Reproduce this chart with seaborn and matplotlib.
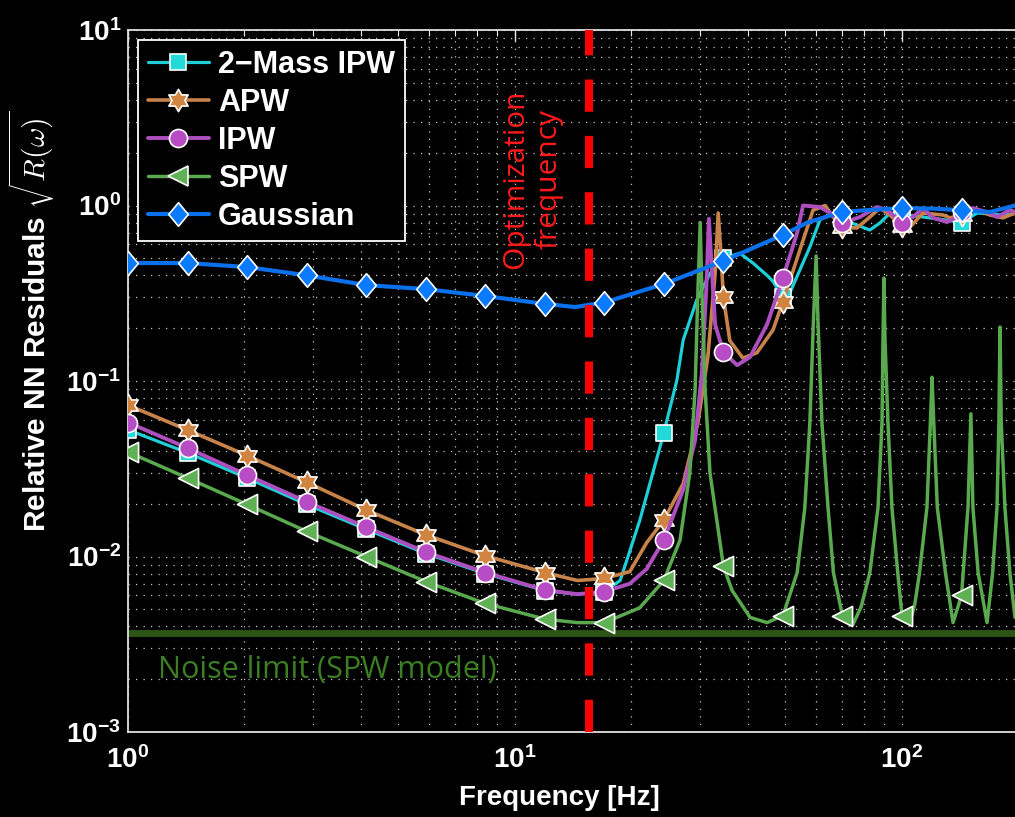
import numpy as np
import matplotlib
matplotlib.use("Agg")
import matplotlib.pyplot as plt
from matplotlib.path import Path
from matplotlib.lines import Line2D
from matplotlib.ticker import LogLocator, NullFormatter
import seaborn as sns

# ---------------- data ----------------
series_names = ["2\u2212Mass IPW", "APW", "IPW", "SPW", "Gaussian"]

marker_freq = [1.0, 1.425, 2.031, 2.894, 4.125, 5.878, 8.377, 11.94, 17.01,
               24.24, 34.55, 49.24, 70.17, 100.0, 142.5]

mass2_marks = [0.0527, 0.039, 0.028, 0.0198, 0.0143, 0.0104, 0.0080, 0.0064, 0.0063,
               0.0506, 0.50, 0.30, 0.85, 0.89, 0.80]
apw_marks = [0.0728, 0.0526, 0.0376, 0.0265, 0.0184, 0.0133, 0.0101, 0.0081, 0.0075,
             0.0161, 0.30, 0.283, 0.75, 0.76, 0.883]
ipw_marks = [0.058, 0.0415, 0.0291, 0.0205, 0.0147, 0.0106, 0.0081, 0.00644, 0.0063,
             0.0124, 0.146, 0.386, 0.795, 0.80, 0.92]
spw_marks = [0.0394, 0.028, 0.0198, 0.0139, 0.0100, 0.0072, 0.0054, 0.0044, 0.0042,
             0.0073, 0.0088, 0.0046, 0.0046, 0.0046, 0.006]
gauss_marks = [0.47, 0.47, 0.446, 0.40, 0.352, 0.334, 0.305, 0.275, 0.28,
               0.357, 0.483, 0.68, 0.92, 0.967, 0.94]

mass2_freq = [1.0, 1.425, 2.031, 2.894, 4.125, 5.878, 8.377, 11.94, 14.5, 17.01, 18.7, 21.0,
              24.24, 26.2, 27.2, 29.5, 31.9, 34.55, 38.1, 41.2, 44.8, 46.4, 49.24, 51.7,
              57.8, 61.4, 66.4, 74.7, 82.6, 87.7, 93.1, 103.0, 113.3, 128.0, 142.5, 156.3,
              182.4, 195.9]
mass2_vals = [0.0527, 0.039, 0.028, 0.0198, 0.0143, 0.0104, 0.0080, 0.0064, 0.0061, 0.0063,
              0.0073, 0.016, 0.0506, 0.101, 0.171, 0.29, 0.41, 0.50, 0.535, 0.47, 0.40, 0.37,
              0.30, 0.33, 0.58, 0.83, 0.90, 0.79, 0.725, 0.795, 0.906, 0.883, 0.86, 0.83,
              0.80, 0.906, 0.883, 0.90]

apw_freq = [1.0, 1.425, 2.031, 2.894, 4.125, 5.878, 8.377, 11.94, 14.5, 17.01, 19.8, 21.9,
            24.24, 27.2, 29.7, 31.5, 32.9, 33.5, 34.1, 34.55, 35.9, 38.8, 42.2, 46.4, 49.24,
            54.5, 58.9, 63.3, 66.4, 70.17, 76.5, 82.6, 87.7, 93.1, 100.0, 104.9, 113.3,
            127.7, 133.1, 142.5, 156.3, 168.8, 182.4, 195.9]
apw_vals = [0.0728, 0.0526, 0.0376, 0.0265, 0.0184, 0.0133, 0.0101, 0.0081, 0.0073, 0.0075,
            0.0082, 0.012, 0.0161, 0.026, 0.058, 0.137, 0.41, 0.906, 0.51, 0.30, 0.17, 0.135,
            0.145, 0.195, 0.283, 0.56, 0.94, 1.0, 0.86, 0.75, 0.745, 0.86, 0.967, 0.883,
            0.76, 0.754, 0.906, 0.883, 0.85, 0.883, 0.943, 0.883, 0.85, 0.906]

ipw_freq = [1.0, 1.425, 2.031, 2.894, 4.125, 5.878, 8.377, 11.94, 14.5, 17.01, 19.8, 21.9,
            24.24, 27.2, 29.2, 30.4, 31.2, 31.7, 32.3, 32.9, 34.55, 37.5, 40.5, 44.8, 49.24,
            53.6, 55.5, 61.4, 65.2, 70.17, 77.9, 86.1, 91.4, 100.0, 106.8, 113.3, 120.3,
            130.7, 138.7, 142.5, 152.5, 168.8, 175.9, 190.1, 195.9]
ipw_vals = [0.058, 0.0415, 0.0291, 0.0205, 0.0147, 0.0106, 0.0081, 0.00644, 0.0061, 0.0063,
            0.0070, 0.0085, 0.0124, 0.024, 0.046, 0.111, 0.33, 0.84, 0.41, 0.21, 0.146,
            0.123, 0.137, 0.21, 0.386, 0.70, 1.0, 0.98, 0.906, 0.795, 0.86, 0.98, 0.943,
            0.80, 0.86, 0.967, 0.85, 0.805, 0.86, 0.92, 0.967, 0.906, 0.86, 0.943, 0.92]

spw_freq = [1.0, 1.425, 2.031, 2.894, 4.125, 5.878, 8.377, 11.94, 14.5, 17.01, 21.0, 24.24,
            26.7, 28.3, 29.2, 29.7, 30.1, 30.4, 31.0, 31.9, 33.8, 34.55, 36.4, 40.5, 44.8,
            49.24, 53.6, 56.1, 57.8, 59.0, 60.0, 60.7, 62.1, 64.4, 66.5, 70.17, 74.7, 78.5,
            82.6, 86.7, 88.8, 89.3, 89.8, 90.4, 92.0, 94.2, 97.5, 100.0, 104.9, 108.0,
            111.0, 116.0, 118.4, 119.6, 120.8, 123.4, 129.5, 135.5, 142.5, 148.1, 150.7,
            152.5, 157.3, 165.9, 171.5, 176.0, 178.0, 179.2, 180.5, 184.5, 190.0, 195.9]
spw_vals = [0.0394, 0.028, 0.0198, 0.0139, 0.0100, 0.0072, 0.0054, 0.0044, 0.0042, 0.0042,
            0.0051, 0.0073, 0.0124, 0.030, 0.089, 0.33, 0.80, 0.33, 0.089, 0.030, 0.0124,
            0.0088, 0.0064, 0.0045, 0.0042, 0.0046, 0.0081, 0.019, 0.058, 0.21, 0.516, 0.21,
            0.058, 0.019, 0.0081, 0.0046, 0.0041, 0.0052, 0.0081, 0.019, 0.058, 0.17, 0.386,
            0.17, 0.058, 0.019, 0.0081, 0.0046, 0.0042, 0.0054, 0.0081, 0.019, 0.058, 0.105,
            0.058, 0.019, 0.0081, 0.0042, 0.006, 0.019, 0.065, 0.019, 0.0081, 0.0042, 0.0081,
            0.019, 0.058, 0.203, 0.058, 0.019, 0.0081, 0.0045]

gauss_freq = [1.0, 1.425, 2.031, 2.894, 4.125, 5.878, 8.377, 11.94, 14.3, 17.01, 24.24,
              34.55, 49.24, 57.0, 70.17, 82.6, 100.0, 120.0, 142.5, 168.8, 195.9]
gauss_vals = [0.47, 0.47, 0.446, 0.40, 0.352, 0.334, 0.305, 0.275, 0.264, 0.28, 0.357,
              0.483, 0.68, 0.80, 0.92, 0.943, 0.967, 0.96, 0.94, 0.918, 1.0]

noise_limit = 0.00366
opt_freq = 15.5

# ---------------- styling ----------------
sns.set_style("dark", rc={"axes.facecolor": "black", "figure.facecolor": "black"})
plt.rcParams["font.family"] = ["Liberation Sans", "DejaVu Sans"]
plt.rcParams["font.weight"] = "bold"
plt.rcParams["axes.unicode_minus"] = True

c_cyan, f_cyan = "#1fcfd8", "#22dada"
c_orange, f_orange = "#c8834a", "#d0843f"
c_purple, f_purple = "#ad4fbf", "#b84cc4"
c_green, f_green = "#5aa94f", "#60b055"
c_blue, f_blue = "#0a70ec", "#0a7aff"

hexagram = Path.unit_regular_star(6, 0.577)
diamond = Path([(0, 1), (0.83, 0), (0, -1), (-0.83, 0), (0, 1)],
               [Path.MOVETO, Path.LINETO, Path.LINETO, Path.LINETO, Path.CLOSEPOLY])

styles = [
    (mass2_freq, mass2_vals, mass2_marks, c_cyan, f_cyan, "s", 11.5, 2.3),
    (apw_freq, apw_vals, apw_marks, c_orange, f_orange, hexagram, 16.0, 2.6),
    (ipw_freq, ipw_vals, ipw_marks, c_purple, f_purple, "o", 13.0, 2.8),
    (spw_freq, spw_vals, spw_marks, c_green, f_green, "<", 14.5, 2.5),
    (gauss_freq, gauss_vals, gauss_marks, c_blue, f_blue, diamond, 17.0, 3.0),
]

fig = plt.figure(figsize=(10.15, 8.17), dpi=100, facecolor="black")
ax = fig.add_axes([128 / 1015, 85 / 817, 887 / 1015, 702 / 817])
ax.set_facecolor("black")
ax.set_xscale("log")
ax.set_yscale("log")

# noise limit
ax.axhline(noise_limit, color="#2c5416", lw=5.0, zorder=2.5)

handles = []
for i, (fx, fy, mk, lc, fc, m, ms, lw) in enumerate(styles):
    z = 3 + i
    sns.lineplot(x=fx, y=fy, ax=ax, color=lc, lw=lw, sort=False, estimator=None,
                 legend=False, zorder=z)
    sns.scatterplot(x=marker_freq, y=mk, ax=ax, marker=m, s=ms ** 2, color=fc,
                    edgecolor="white", linewidth=1.2, legend=False, zorder=z + 0.5)
    handles.append(Line2D([], [], color=lc, lw=lw, marker=m, markersize=ms,
                          markerfacecolor=fc, markeredgecolor="white",
                          markeredgewidth=1.2))

# optimization frequency line
ax.axvline(opt_freq, color="#ff0000", lw=5.8, linestyle=(0, (4.0, 3.0)), zorder=9)

ax.text(11.1, 1.42, "Optimization\nfrequency", rotation=90, color="#ff1a1a",
        fontsize=21.5, fontweight="normal", family="Open Sans", ha="center", va="center",
        multialignment="center", linespacing=1.2, zorder=10)
ax.text(1.195, 0.00225, "Noise limit (SPW model)", color="#3b7f22", fontsize=22,
        fontweight="normal", family="Open Sans", ha="left", va="center", zorder=10)

ax.set_xlim(1, 195.9)
ax.set_ylim(1e-3, 1e1)

ax.xaxis.set_major_locator(LogLocator(base=10, numticks=10))
ax.yaxis.set_major_locator(LogLocator(base=10, numticks=10))
ax.xaxis.set_minor_locator(LogLocator(base=10, subs=np.arange(2, 10), numticks=20))
ax.yaxis.set_minor_locator(LogLocator(base=10, subs=np.arange(2, 10), numticks=20))
ax.xaxis.set_minor_formatter(NullFormatter())
ax.yaxis.set_minor_formatter(NullFormatter())

ax.grid(True, which="both", color="#c8c8c8", linestyle=(0, (1, 5)), linewidth=0.9)
ax.set_axisbelow(True)
for s in ["left", "bottom", "top"]:
    ax.spines[s].set_color("#e0e0e0")
    ax.spines[s].set_linewidth(1.3)
ax.spines["right"].set_visible(False)

ax.tick_params(which="both", direction="in", colors="#e8e8e8", labelcolor="white",
               top=True, right=False)
ax.tick_params(which="major", length=8, width=1.0, labelsize=20, pad=5)
ax.tick_params(axis="x", which="major", pad=10)
ax.tick_params(which="minor", length=4, width=0.8)

ax.set_xlabel("Frequency [Hz]", color="white", fontsize=20, fontweight="bold")
ax.set_ylabel(r"Relative NN Residuals $\sqrt{R(\omega)}$", color="white", fontsize=21.5,
              fontweight="bold", math_fontfamily="cm")
ax.xaxis.set_label_coords(0.486, -0.075)
ax.yaxis.set_label_coords(-0.080, 0.585)

leg = ax.legend(handles, series_names, loc="upper left", bbox_to_anchor=(0.0113, 0.9858),
                borderaxespad=0, frameon=True, fancybox=False, fontsize=22,
                handlelength=2.0, handletextpad=0.3, labelspacing=0.26, borderpad=0.32,
                facecolor="black", edgecolor="white", framealpha=1.0)
leg.get_frame().set_linewidth(1.3)
leg.set_zorder(20)
for t in leg.get_texts():
    t.set_color("white")
    t.set_fontweight("bold")

fig.savefig("out.png", dpi=100, facecolor="black")
